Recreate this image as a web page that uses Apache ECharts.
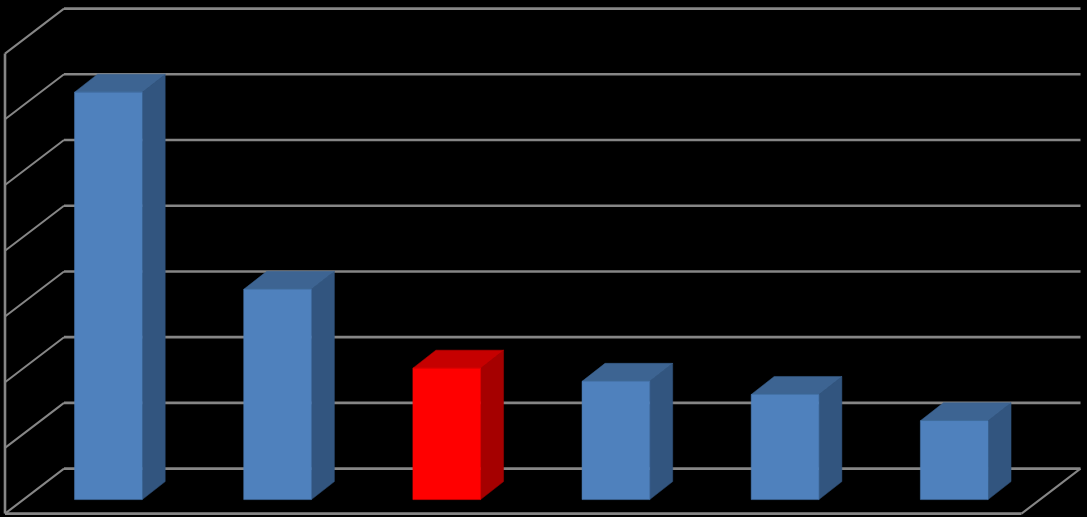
<!DOCTYPE html>
<html>
<head>
<meta charset="utf-8">
<style>html,body{margin:0;padding:0;background:#000}#c{width:1087px;height:517px}</style>
<script src="https://cdn.jsdelivr.net/npm/echarts@6/dist/echarts.min.js"></script>
</head>
<body>
<div id="c"></div>
<script>
const categories = ['1', '2', '3', '4', '5', '6'];
const values = [62, 32, 20, 18, 16, 12];
const gridValues = [0, 10, 20, 30, 40, 50, 60, 70];
const highlightIndex = 2;

// Projection offsets of the oblique view, relative to the plane of the bar fronts
const FRONT = [-18.8, 14];
const BACK = [40.2, -31];
const BAR_DEPTH = [23, -18];
const WALL_RIGHT_PAD = 1.5;
const LINE = '#868686';
const BLUE = { front: '#4f81bd', top: '#3d6492', side: '#32557f' };
const RED = { front: '#ff0000', top: '#c60000', side: '#a50000' };

const chart = echarts.init(document.getElementById('c'), null, { renderer: 'canvas' });

function renderWall(params, api) {
  const v = api.value(0);
  const p = api.coord([0, v]);
  const cs = params.coordSys;
  const y = p[1];
  const left = cs.x;
  const right = cs.x + cs.width + WALL_RIGHT_PAD;
  const fl = [left + FRONT[0], y + FRONT[1]];
  const bl = [left + BACK[0], y + BACK[1]];
  const br = [right + BACK[0], y + BACK[1]];
  const children = [
    { type: 'polyline', shape: { points: [[bl[0], bl[1]], [br[0], br[1]]] }, style: { stroke: LINE, lineWidth: 2.6, fill: null } },
    { type: 'polyline', shape: { points: [[fl[0], fl[1]], [bl[0], bl[1]]] }, style: { stroke: LINE, lineWidth: 2, fill: null } }
  ];
  if (v === gridValues[0]) {
    const fr = [right + FRONT[0], y + FRONT[1]];
    const top = api.coord([0, gridValues[gridValues.length - 1]]);
    children.push(
      { type: 'polyline', shape: { points: [[fl[0], fl[1]], [fr[0], fr[1]]] }, style: { stroke: LINE, lineWidth: 2.6, fill: null } },
      { type: 'polyline', shape: { points: [[fr[0], fr[1]], [br[0], br[1]]] }, style: { stroke: LINE, lineWidth: 2, fill: null } },
      { type: 'polyline', shape: { points: [[fl[0], fl[1]], [fl[0], top[1] + FRONT[1]]] }, style: { stroke: LINE, lineWidth: 2.6, fill: null } }
    );
  }
  return { type: 'group', children };
}

function renderBar(params, api) {
  const i = api.value(0);
  const top = api.coord([i, api.value(1)]);
  const base = api.coord([i, 0]);
  const w = api.size([1, 0])[0] * 0.4;
  const x0 = top[0] - w / 2, x1 = top[0] + w / 2;
  const dx = BAR_DEPTH[0], dy = BAR_DEPTH[1];
  const c = i === highlightIndex ? RED : BLUE;
  const poly = (points, fill) => ({ type: 'polygon', shape: { points }, style: { fill, stroke: fill, lineWidth: 0.5 } });
  return {
    type: 'group',
    children: [
      poly([[x1, top[1]], [x1 + dx, top[1] + dy], [x1 + dx, base[1] + dy], [x1, base[1]]], c.side),
      poly([[x0, top[1]], [x0 + dx, top[1] + dy], [x1 + dx, top[1] + dy], [x1, top[1]]], c.top),
      poly([[x0, top[1]], [x1, top[1]], [x1, base[1]], [x0, base[1]]], c.front)
    ]
  };
}

chart.setOption({
  animation: false,
  backgroundColor: '#000000',
  grid: { left: 23.8, right: 1087 - 23.8 - 1015, top: 39.6, bottom: 17.4, containLabel: false },
  xAxis: { type: 'category', data: categories, show: false },
  yAxis: { type: 'value', min: 0, max: 70, interval: 10, show: false },
  series: [
    { type: 'custom', z: 1, silent: true, renderItem: renderWall,
      data: gridValues.map(v => [v]), encode: { y: 0 } },
    { type: 'custom', z: 2, silent: true, renderItem: renderBar,
      data: values.map((v, i) => [i, v]), encode: { x: 0, y: 1 } }
  ]
});
</script>
</body>
</html>
